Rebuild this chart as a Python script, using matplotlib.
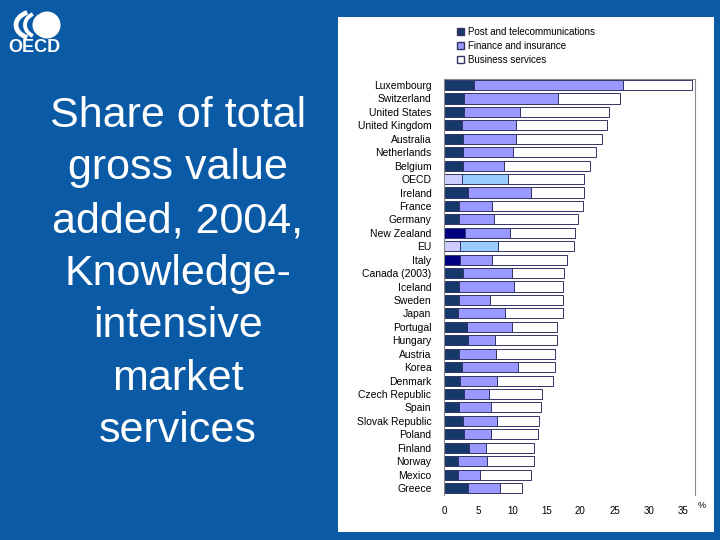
import numpy as np
import matplotlib
matplotlib.use("Agg")
import matplotlib.pyplot as plt
from matplotlib.patches import Rectangle, Circle, Arc, Patch

plt.rcParams['font.family'] = ['Liberation Sans', 'DejaVu Sans']

countries = ["Luxembourg", "Switzerland", "United States", "United Kingdom",
             "Australia", "Netherlands", "Belgium", "OECD", "Ireland", "France",
             "Germany", "New Zealand", "EU", "Italy", "Canada (2003)", "Iceland",
             "Sweden", "Japan", "Portugal", "Hungary", "Austria", "Korea",
             "Denmark", "Czech Republic", "Spain", "Slovak Republic", "Poland",
             "Finland", "Norway", "Mexico", "Greece"]

# shares of total gross value added, %
post = [4.4, 3.0, 3.0, 2.7, 2.8, 2.8, 2.8, 2.7, 3.5, 2.2,
        2.2, 3.1, 2.3, 2.3, 2.8, 2.2, 2.2, 2.1, 3.3, 3.5,
        2.2, 2.7, 2.3, 3.0, 2.2, 2.8, 3.0, 3.6, 2.0, 2.0, 3.5]
finance = [21.8, 13.7, 8.1, 7.8, 7.7, 7.3, 6.0, 6.7, 9.3, 4.8,
           5.2, 6.6, 5.6, 4.7, 7.2, 8.0, 4.6, 6.9, 6.6, 4.0,
           5.4, 8.2, 5.4, 3.6, 4.7, 5.0, 3.9, 2.5, 4.3, 3.3, 4.7]
business = [10.1, 9.1, 13.1, 13.4, 12.7, 12.2, 12.6, 11.1, 7.7, 13.4,
            12.3, 9.5, 11.2, 11.0, 7.6, 7.3, 10.6, 8.4, 6.7, 9.1,
            8.7, 5.4, 8.3, 7.8, 7.3, 6.2, 6.9, 7.1, 6.9, 7.4, 3.3]

series_names = ["Post and telecommunications", "Finance and insurance",
                "Business services"]
xticks = [0, 5, 10, 15, 20, 25, 30, 35]

title_lines = ["Share of total", "gross value", "added, 2004,", "Knowledge-",
               "intensive", "market", "services"]

blue = '#0b5aa6'
edge = '#333366'

post_colors = []
fin_colors = []
for c in countries:
    if c in ("OECD", "EU"):
        post_colors.append('#ccccff')
        fin_colors.append('#99ccff')
    elif c in ("New Zealand", "Italy"):
        post_colors.append('#000080')
        fin_colors.append('#9999ff')
    else:
        post_colors.append('#17386a')
        fin_colors.append('#9999ff')

fig = plt.figure(figsize=(7.2, 5.4), dpi=100)
fig.patch.set_facecolor(blue)

# slide background, panel, logo and title (pixel coordinates)
bg = fig.add_axes([0, 0, 1, 1])
bg.set_xlim(0, 720)
bg.set_ylim(540, 0)
bg.axis('off')
bg.add_patch(Rectangle((338, 17), 376, 515, facecolor='white', edgecolor='none'))

bg.add_patch(Circle((47, 25), 13.5, facecolor='white', edgecolor='none'))
bg.add_patch(Arc((36, 25), 40, 28, theta1=125, theta2=235, color='white', lw=3.4))
bg.add_patch(Arc((42, 25), 34, 26, theta1=130, theta2=230, color='white', lw=2.8))
bg.add_patch(Arc((48, 25), 28, 24, theta1=135, theta2=225, color='white', lw=2.2))
bg.text(34, 48, "OECD", color='white', fontsize=13, fontweight='bold',
        ha='center', va='center')

for i, line in enumerate(title_lines):
    bg.text(178, 127 + i * 52.5, line, color='white', fontsize=31,
            ha='center', va='baseline')

# chart
ax = fig.add_axes([444 / 720, 1 - 495 / 540, 251 / 720, 416 / 540])
y = np.arange(len(countries))
p = np.array(post)
f = np.array(finance)
b = np.array(business)
h = 0.75
ax.barh(y, p, height=h, color=post_colors, edgecolor=edge, linewidth=0.7)
ax.barh(y, f, left=p, height=h, color=fin_colors, edgecolor=edge, linewidth=0.7)
ax.barh(y, b, left=p + f, height=h, color='white', edgecolor=edge, linewidth=0.7)

ax.set_xlim(0, 36.8)
ax.set_ylim(len(countries) - 1 + 0.52, -0.45)
ax.set_xticks(xticks)
ax.set_yticks(y)
ax.set_yticklabels(countries, fontsize=7.5)
ax.tick_params(axis='x', length=0, labelsize=7, pad=8)
ax.tick_params(axis='y', length=0, pad=9)
ax.spines['bottom'].set_visible(False)
for s in ('left', 'top', 'right'):
    ax.spines[s].set_color('#888888')
    ax.spines[s].set_linewidth(0.8)

fig.text(702 / 720, 1 - 505 / 540, "%", fontsize=6.5, ha='center', va='center')

handles = [Patch(facecolor='#17386a', edgecolor=edge),
           Patch(facecolor='#9999ff', edgecolor=edge),
           Patch(facecolor='white', edgecolor=edge)]
fig.legend(handles, series_names, loc='upper left',
           bbox_to_anchor=(452 / 720, 1 - 22 / 540), frameon=False,
           fontsize=7, handlelength=0.7, handleheight=0.7,
           handletextpad=0.4, labelspacing=0.4, borderpad=0)

fig.savefig("out.png", dpi=100, facecolor=fig.get_facecolor())
